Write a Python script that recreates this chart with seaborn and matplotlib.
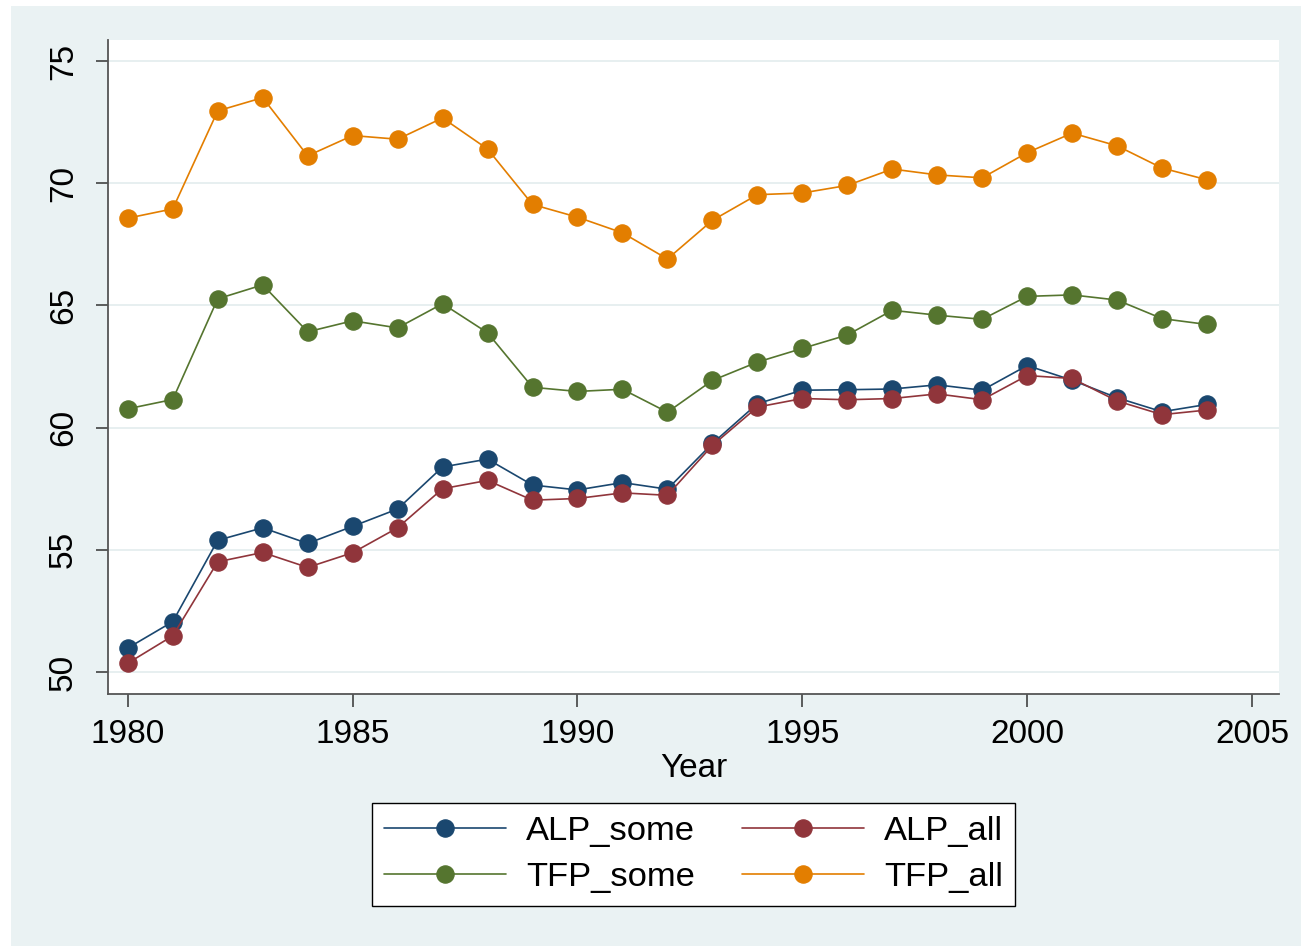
import matplotlib
matplotlib.use("Agg")
import matplotlib.pyplot as plt
import seaborn as sns
import pandas as pd
from matplotlib.patches import Rectangle

years = list(range(1980, 2005))
alp_some = [50.98, 52.06, 55.39, 55.90, 55.26, 55.96, 56.67, 58.39, 58.71, 57.65, 57.45, 57.75, 57.48,
            59.35, 60.98, 61.53, 61.55, 61.58, 61.75, 61.53, 62.54, 61.94, 61.22, 60.65, 60.95]
alp_all = [50.36, 51.48, 54.51, 54.89, 54.28, 54.88, 55.90, 57.50, 57.84, 57.03, 57.10, 57.33, 57.23,
           59.27, 60.84, 61.19, 61.14, 61.19, 61.38, 61.14, 62.13, 62.01, 61.09, 60.53, 60.72]
tfp_some = [60.77, 61.15, 65.27, 65.84, 63.92, 64.37, 64.08, 65.07, 63.88, 61.65, 61.48, 61.57, 60.63,
            61.93, 62.68, 63.24, 63.79, 64.80, 64.60, 64.43, 65.37, 65.43, 65.22, 64.46, 64.22]
tfp_all = [68.57, 68.95, 72.96, 73.50, 71.12, 71.95, 71.80, 72.67, 71.40, 69.13, 68.61, 67.97, 66.90,
           68.48, 69.53, 69.60, 69.91, 70.58, 70.34, 70.22, 71.25, 72.05, 71.53, 70.62, 70.14]
series_names = ["ALP_some", "ALP_all", "TFP_some", "TFP_all"]
colors = ["#1a476f", "#90353b", "#55752f", "#e37e00"]
y_ticks = [50, 55, 60, 65, 70, 75]
x_ticks = [1980, 1985, 1990, 1995, 2000, 2005]

df = pd.DataFrame({"Year": years * 4,
                   "value": alp_some + alp_all + tfp_some + tfp_all,
                   "series": sum([[n] * len(years) for n in series_names], [])})

sns.set_style("white")
plt.rcParams['font.family'] = ['Liberation Sans', 'DejaVu Sans']
plt.rcParams['text.color'] = 'black'
plt.rcParams['xtick.color'] = 'black'
plt.rcParams['ytick.color'] = 'black'
plt.rcParams['axes.labelcolor'] = 'black'

FS = 24
LFS = 24.8

fig = plt.figure(figsize=(13.01, 9.46), dpi=100)
fig.patch.set_facecolor("white")
fig.patches.append(Rectangle((11 / 1301, 0), 1 - 11 / 1301, 1 - 6 / 946,
                             transform=fig.transFigure, facecolor="#eaf2f3",
                             edgecolor="none", zorder=-10))

ax = fig.add_axes([108 / 1301, 1 - 694 / 946, (1279 - 108) / 1301, (694 - 40) / 946])
ax.set_facecolor("white")

palette = dict(zip(series_names, colors))
for name in series_names:
    sub = df[df["series"] == name]
    c = palette[name]
    sns.lineplot(data=sub, x="Year", y="value", ax=ax, color=c, marker="o",
                 markersize=12.5, markeredgecolor=c, markeredgewidth=0.8,
                 linewidth=1.2, label=name, zorder=3)

ax.set_xlim(1979.56, 2005.6)
ax.set_ylim(49.1, 75.86)
ax.set_xticks(x_ticks)
ax.set_yticks(y_ticks)
ax.set_xticklabels([str(t) for t in x_ticks], fontsize=FS)
ax.set_yticklabels([str(t) for t in y_ticks], fontsize=FS, rotation=90, va="center")
ax.grid(axis="y", color="#e3ecee", linewidth=1.2)
ax.set_axisbelow(True)
for s in ["top", "right"]:
    ax.spines[s].set_visible(False)
for s in ["left", "bottom"]:
    ax.spines[s].set_color("#555555")
    ax.spines[s].set_linewidth(1.3)
ax.tick_params(axis="both", direction="out", length=9, width=1.1, color="#333333",
               bottom=True, left=True)
ax.tick_params(axis="x", pad=9)
ax.tick_params(axis="y", pad=12)
ax.set_xlabel("Year", fontsize=FS, labelpad=2)
ax.set_ylabel("")

handles, labels = ax.get_legend_handles_labels()
order = [0, 2, 1, 3]
leg = fig.legend([handles[i] for i in order], [labels[i] for i in order],
                 ncol=2, loc="center", bbox_to_anchor=(693.5 / 1301, 1 - 854.5 / 946),
                 fontsize=LFS, frameon=True, fancybox=False, edgecolor="black",
                 framealpha=1.0, handlelength=3.55, columnspacing=1.35, handletextpad=0.58,
                 borderpad=0.36, labelspacing=0.45)
leg.get_frame().set_linewidth(1.0)
leg.get_frame().set_facecolor("white")
if ax.get_legend():
    ax.get_legend().remove()

fig.savefig("out.png", dpi=100, facecolor=fig.get_facecolor())
